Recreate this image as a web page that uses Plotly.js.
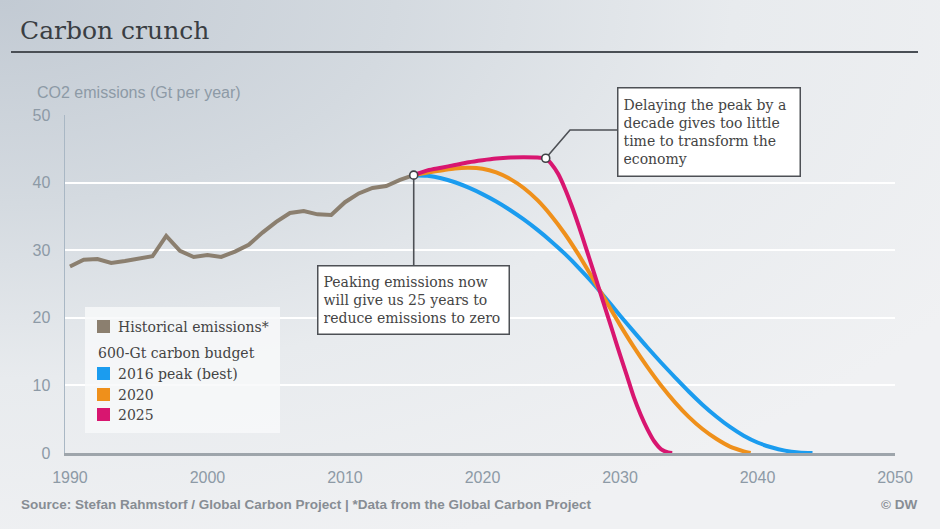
<!DOCTYPE html>
<html>
<head>
<meta charset="utf-8">
<script src="https://cdn.plot.ly/plotly-3.0.1.min.js"></script>
<style>
  html, body { margin: 0; padding: 0; width: 940px; height: 529px; overflow: hidden; }
  body { background: radial-gradient(ellipse 120% 110% at 0% 0%, #c2cad3 0%, #d4dae0 35%, #e8ebee 65%, #f0f1f3 100%); }
  #chart { width: 940px; height: 529px; }
</style>
</head>
<body>
<div id="chart"></div>
<script>
// ---- data ----
const histYears = [1990,1991,1992,1993,1994,1995,1996,1997,1998,1999,2000,2001,2002,2003,2004,2005,2006,2007,2008,2009,2010,2011,2012,2013,2014,2015];
const histValues = [27.6,28.6,28.7,28.1,28.4,28.7,29.1,32.1,29.9,29.0,29.3,29.0,29.8,30.8,32.6,34.2,35.5,35.8,35.3,35.2,37.1,38.4,39.2,39.5,40.4,41.1];

const peak2016Years = [2015,2016,2017,2018,2019,2020,2021,2022,2023,2024,2025,2026,2027,2028,2029,2030,2031,2032,2033,2034,2035,2036,2037,2038,2039,2040,2041,2042,2043,2044];
const peak2016Values = [41.1,41.0,40.65,40.05,39.25,38.3,37.2,35.95,34.55,33.0,31.3,29.45,27.4,25.2,22.8,20.35,17.95,15.6,13.35,11.2,9.1,7.15,5.4,3.85,2.55,1.55,0.85,0.35,0.08,0.0];

const peak2020Years = [2015,2016,2017,2018,2019,2020,2021,2022,2023,2024,2025,2026,2027,2028,2029,2030,2031,2032,2033,2034,2035,2036,2037,2038,2039,2039.5];
const peak2020Values = [41.1,41.5,41.8,42.1,42.2,42.05,41.5,40.55,39.2,37.4,35.1,32.4,29.3,25.9,22.4,18.95,15.7,12.7,9.95,7.5,5.35,3.55,2.1,0.95,0.25,0.0];

const peak2025Years = [2015,2016,2017,2018,2019,2020,2021,2022,2023,2024,2024.6,2025,2025.5,2026,2026.5,2027,2027.5,2028,2028.5,2029,2029.5,2030,2030.5,2031,2031.5,2032,2032.5,2033,2033.5,2033.8];
const peak2025Values = [41.1,41.8,42.2,42.6,43.0,43.3,43.55,43.7,43.75,43.7,43.6,42.8,41.3,39.1,36.5,33.6,30.5,27.35,24.15,20.95,17.75,14.55,11.45,8.3,5.7,3.5,1.7,0.55,0.08,0.0];

const xTicks = [1990,2000,2010,2020,2030,2040,2050];
const yTicks = [0,10,20,30,40,50];

const legendLabels = ['Historical emissions*','2016 peak (best)','2020','2025'];
const legendHeader = '600-Gt carbon budget';
const titleText = 'Carbon crunch';
const yTitleText = 'CO2 emissions (Gt per year)';
const noteNow = 'Peaking emissions now<br>will give us 25 years to<br>reduce emissions to zero';
const noteDelay = 'Delaying the peak by a<br>decade gives too little<br>time to transform the<br>economy';
const sourceText = 'Source: Stefan Rahmstorf / Global Carbon Project | *Data from the Global Carbon Project';
const creditText = '© DW';

// ---- styles ----
const C_HIST = '#8b7f6f', C_BLUE = '#1b9cef', C_ORANGE = '#ef901b', C_MAG = '#d81670';
const SERIF = 'DejaVu Serif, Liberation Serif, serif';
const SANS = 'Liberation Sans, Arial, sans-serif';

// plot area in pixels
const L = 65, T = 115, W = 830, H = 338;
const X0 = 1989.64, PXY = W / (2050 - X0);
const px = x => (x - L) / W;
const py = y => (T + H - y) / H;
const dataX = p => X0 + (p - L) / PXY;
const dataY = p => (T + H - p) / H * 50;

// points where the two notes attach
const nowX = histYears[histYears.length - 1], nowY = histValues[histValues.length - 1];
const pkI = peak2025Years.indexOf(2024.6);
const delX = peak2025Years[pkI], delY = peak2025Values[pkI];

const lineStyle = (c) => ({color: c, width: 4, shape: 'spline', smoothing: 0.8});

const traces = [
  {x: histYears, y: histValues, mode: 'lines', line: {color: C_HIST, width: 4, shape: 'linear'}, hoverinfo: 'skip'},
  {x: peak2016Years, y: peak2016Values, mode: 'lines', line: lineStyle(C_BLUE), hoverinfo: 'skip'},
  {x: peak2020Years, y: peak2020Values, mode: 'lines', line: lineStyle(C_ORANGE), hoverinfo: 'skip'},
  {x: peak2025Years, y: peak2025Values, mode: 'lines', line: lineStyle(C_MAG), hoverinfo: 'skip'},
  {x: [nowX, delX], y: [nowY, delY], mode: 'markers',
   marker: {size: 8, color: '#ffffff', line: {color: '#3f4246', width: 1.6}}, hoverinfo: 'skip'}
];

// legend rows (pixel centres)
const legRows = [326.5, 373.5, 394.5, 414.5];
const legColors = [C_HIST, C_BLUE, C_ORANGE, C_MAG];

const shapes = [
  // title underline
  {type: 'line', xref: 'paper', yref: 'paper', x0: px(11), x1: px(918), y0: py(52), y1: py(52),
   line: {color: '#4a4f55', width: 2}},
  // legend background
  {type: 'rect', xref: 'paper', yref: 'paper', x0: px(85), x1: px(280), y0: py(433), y1: py(307),
   fillcolor: 'rgba(248,249,250,0.82)', line: {width: 0}, layer: 'above'},
  // connector: now
  {type: 'line', xref: 'x', yref: 'y', x0: nowX, y0: nowY, x1: nowX, y1: dataY(265),
   line: {color: '#4d5055', width: 1.6}, layer: 'between'},
  // connector: delay (elbow)
  {type: 'path', xref: 'x', yref: 'y',
   path: `M ${delX},${delY} L ${dataX(570)},${dataY(130)} L ${dataX(617)},${dataY(130)}`,
   line: {color: '#4d5055', width: 1.6}, layer: 'between'}
];
legColors.forEach((c, i) => {
  shapes.push({type: 'rect', xref: 'paper', yref: 'paper',
    x0: px(97), x1: px(110), y0: py(legRows[i] + 6.5), y1: py(legRows[i] - 6.5),
    fillcolor: c, line: {width: 0}, layer: 'above'});
});

const annotations = [
  {xref: 'paper', yref: 'paper', x: px(35), y: py(92), xanchor: 'left', yanchor: 'middle', showarrow: false,
   text: yTitleText, font: {family: SANS, size: 16, color: '#8d9aa6'}},
  {xref: 'paper', yref: 'paper', x: px(19), y: py(505), xanchor: 'left', yanchor: 'middle', showarrow: false,
   text: '<b>' + sourceText + '</b>', font: {family: SANS, size: 13.5, color: '#878d94'}},
  {xref: 'paper', yref: 'paper', x: px(919), y: py(505), xanchor: 'right', yanchor: 'middle', showarrow: false,
   text: '<b>' + creditText + '</b>', font: {family: SANS, size: 13.5, color: '#878d94'}},
  // notes
  {xref: 'paper', yref: 'paper', x: px(413.5), y: py(300), xanchor: 'center', yanchor: 'middle', showarrow: false,
   text: noteNow, align: 'left', valign: 'middle', width: 180, height: 57,
   bgcolor: '#ffffff', bordercolor: '#4d5055', borderwidth: 1.5, borderpad: 5,
   font: {family: SERIF, size: 14, color: '#444444'}},
  {xref: 'paper', yref: 'paper', x: px(709), y: py(132), xanchor: 'center', yanchor: 'middle', showarrow: false,
   text: noteDelay, align: 'left', valign: 'middle', width: 171, height: 77,
   bgcolor: '#ffffff', bordercolor: '#4d5055', borderwidth: 1.5, borderpad: 5,
   font: {family: SERIF, size: 14, color: '#444444'}},
  // legend header
  {xref: 'paper', yref: 'paper', x: px(96), y: py(352.5), xanchor: 'left', yanchor: 'middle', showarrow: false,
   text: legendHeader, font: {family: SERIF, size: 14, color: '#444444'}}
];
legendLabels.forEach((t, i) => {
  annotations.push({xref: 'paper', yref: 'paper', x: px(116), y: py(legRows[i]), xanchor: 'left', yanchor: 'middle',
    showarrow: false, text: t, font: {family: SERIF, size: 14, color: '#444444'}});
});

const layout = {
  width: 940, height: 529,
  margin: {l: L, r: 940 - L - W, t: T, b: 529 - T - H, pad: 0},
  paper_bgcolor: 'rgba(0,0,0,0)', plot_bgcolor: 'rgba(0,0,0,0)',
  showlegend: false,
  title: {text: titleText, xref: 'container', yref: 'container', x: 20 / 940, xanchor: 'left',
          y: 1 - 30 / 529, yanchor: 'middle', font: {family: SERIF, size: 25, color: '#3a3e43'}},
  xaxis: {range: [X0, 2050], tickvals: xTicks, ticktext: xTicks.map(String), showgrid: false, zeroline: false,
          showline: true, linecolor: '#9ea5ab', linewidth: 2.5, ticks: '', ticklabelstandoff: 8,
          tickfont: {family: SANS, size: 16, color: '#8d9aa6'}, fixedrange: true},
  yaxis: {range: [0, 50], tickvals: yTicks, ticktext: yTicks.map(String), showgrid: true, gridcolor: '#ffffff', gridwidth: 2,
          zeroline: false, showline: true, linecolor: '#a9b7c4', linewidth: 1.5, ticks: '', ticklabelstandoff: 10,
          tickfont: {family: SANS, size: 16, color: '#8d9aa6'}, fixedrange: true},
  shapes: shapes,
  annotations: annotations
};

Plotly.newPlot('chart', traces, layout, {displayModeBar: false, staticPlot: true});
</script>
</body>
</html>
